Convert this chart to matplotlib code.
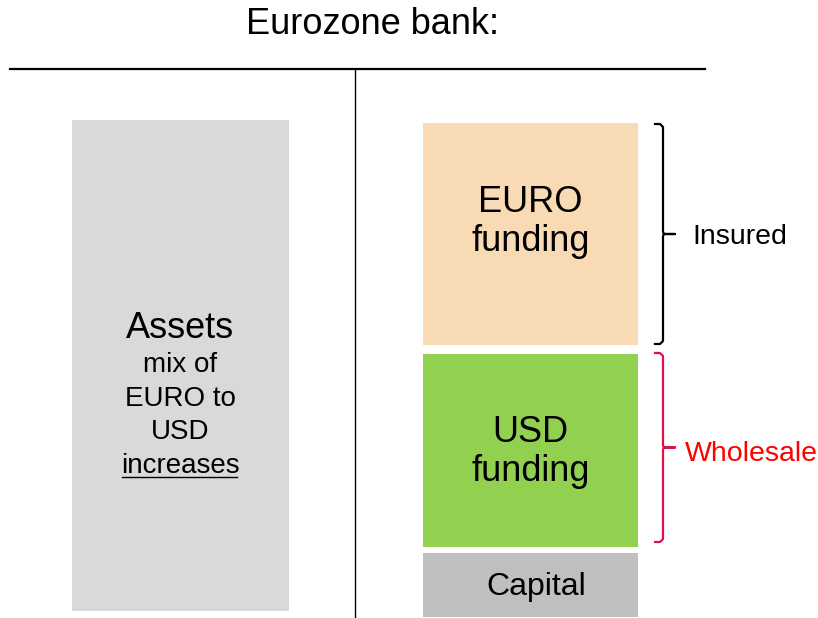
import matplotlib.pyplot as plt
from matplotlib.patches import Rectangle

plt.rcParams['font.family'] = ['Liberation Sans', 'DejaVu Sans']

# liabilities side (top to bottom): label, top, bottom, colour
liab_labels = ["EURO\nfunding", "USD\nfunding", "Capital"]
liab_top = [123, 354, 553]
liab_bottom = [345, 547, 617]
liab_colors = ["#f8dab4", "#92d050", "#bfbfbf"]
liab_text_x = [530.5, 530.5, 536]
liab_text_y = [222, 452, 587]
liab_fontsize = [26, 26, 23]

# braces on the right
brace_labels = ["Insured", "Wholesale"]
brace_top = [124, 353]
brace_bottom = [344, 542]
brace_colors = ["black", "#e0104a"]
brace_text_colors = ["black", "#ff0000"]
brace_text_x = [692, 685]
brace_text_y = [237, 454]

asset_lines = ["mix of", "EURO to", "USD", "increases"]

fig = plt.figure(figsize=(8.18, 6.18), dpi=100)
ax = fig.add_axes([0, 0, 1, 1])
ax.set_xlim(0, 818)
ax.set_ylim(618, 0)
ax.axis("off")

# title and T-account lines
ax.text(373, 24, "Eurozone bank:", ha="center", va="center", fontsize=26)
ax.plot([10, 705], [69, 69], color="black", lw=1.6)
ax.plot([355, 355], [69, 618], color="black", lw=1.0)

# assets box
ax.add_patch(Rectangle((72, 120), 217, 491, color="#d9d9d9", lw=0))
ax.text(180, 328, "Assets", ha="center", va="center", fontsize=26)
line_y = [365, 399, 432, 466]
for txt, y in zip(asset_lines, line_y):
    t = ax.text(180, y, txt, ha="center", va="center", fontsize=20)
# underline "increases"
fig.canvas.draw()
bb = t.get_window_extent().transformed(ax.transData.inverted())
ax.plot([bb.x0 + 1, bb.x1 - 2], [477, 477], color="black", lw=1.0)

# liabilities boxes
for lab, top, bot, col, tx, ty, fs in zip(liab_labels, liab_top, liab_bottom, liab_colors,
                                          liab_text_x, liab_text_y, liab_fontsize):
    ax.add_patch(Rectangle((423, top), 215, bot - top, color=col, lw=0))
    ax.text(tx, ty, lab, ha="center", va="center", fontsize=fs, linespacing=1.15)

# braces
for lab, top, bot, col, tcol, tx, ty in zip(brace_labels, brace_top, brace_bottom,
                                            brace_colors, brace_text_colors,
                                            brace_text_x, brace_text_y):
    mid = (top + bot) / 2
    xs = [655, 660, 663, 663, 664, 675, 664, 663, 663, 660, 655]
    ys = [top, top, top + 3, mid - 2, mid, mid, mid, mid + 2, bot - 3, bot, bot]
    ax.plot(xs, ys, color=col, lw=1.6, solid_joinstyle="round")
    ax.text(tx, ty, lab, ha="left", va="center", fontsize=20.5, color=tcol)

fig.savefig("out.png", dpi=100)
